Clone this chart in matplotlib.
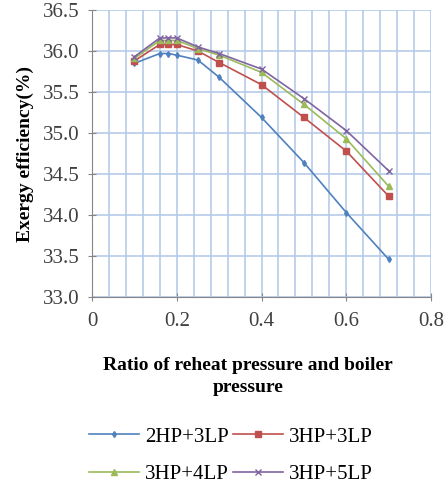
import matplotlib
matplotlib.use("Agg")
import matplotlib.pyplot as plt
import numpy as np

x = [0.1, 0.16, 0.18, 0.2, 0.25, 0.3, 0.4, 0.5, 0.6, 0.7]
s_2hp3lp = [35.85, 35.97, 35.97, 35.95, 35.89, 35.68, 35.19, 34.64, 34.03, 33.46]
s_3hp3lp = [35.88, 36.08, 36.08, 36.08, 36.00, 35.86, 35.59, 35.19, 34.78, 34.23]
s_3hp4lp = [35.91, 36.13, 36.13, 36.13, 36.03, 35.95, 35.74, 35.35, 34.93, 34.35]
s_3hp5lp = [35.93, 36.16, 36.16, 36.16, 36.05, 35.97, 35.78, 35.42, 35.03, 34.54]
labels = ["2HP+3LP", "3HP+3LP", "3HP+4LP", "3HP+5LP"]
xticks = [0, 0.2, 0.4, 0.6, 0.8]
yticks = [33.0, 33.5, 34.0, 34.5, 35.0, 35.5, 36.0, 36.5]

plt.rcParams['font.family'] = ['Liberation Serif', 'DejaVu Serif']

fig = plt.figure(figsize=(4.48, 4.88), dpi=100)
ax = fig.add_axes([0.2054, 0.3914, 0.7567, 0.588])

colors = ['#4F81BD', '#C0504D', '#9BBB59', '#8064A2']
markers = ['d', 's', '^', 'x']
msizes = [3, 4.5, 4, 5]
handles = []
for ys, lab, c, m, ms in zip([s_2hp3lp, s_3hp3lp, s_3hp4lp, s_3hp5lp], labels, colors, markers, msizes):
    h, = ax.plot(x, ys, color=c, marker=m, markersize=ms, linewidth=1.2, label=lab,
                 markeredgewidth=1.0)
    handles.append(h)

ax.set_xlim(0, 0.8)
ax.set_ylim(33.0, 36.5)
ax.set_xticks(xticks)
ax.set_xticklabels(["0", "0.2", "0.4", "0.6", "0.8"])
ax.set_yticks(yticks)
ax.set_yticklabels([f"{v:.1f}" for v in yticks])
ax.set_xticks(np.arange(0, 0.8001, 0.04), minor=True)
ax.grid(True, which='major', axis='y', color='#B0C7E6', linewidth=1.1)
ax.grid(True, which='both', axis='x', color='#B0C7E6', linewidth=1.1)
ax.set_axisbelow(True)
ax.tick_params(axis='x', which='minor', length=0)
ax.tick_params(axis='both', which='major', direction='inout', length=6, color='#868686',
               labelsize=15, labelcolor='#404040')
ax.tick_params(axis='y', pad=6)
ax.tick_params(axis='x', pad=8)
for sp in ['top', 'right']:
    ax.spines[sp].set_visible(False)
for sp in ['left', 'bottom']:
    ax.spines[sp].set_color('#868686')

fig.text(248 / 448, 1 - 357 / 488, "Ratio of reheat pressure and boiler\npressure",
         fontsize=14, fontweight='bold', ha='center', va='top', linespacing=1.35)
ax.set_ylabel("Exergy efficiency(%)", fontsize=14, fontweight='bold', labelpad=6)

order = [0, 2, 1, 3]
fig.legend([handles[i] for i in order], [labels[i] for i in order],
           loc='lower center', bbox_to_anchor=(0.515, -0.03), ncol=2, frameon=False,
           fontsize=15, handlelength=2.4, columnspacing=0.2, handletextpad=0.3,
           labelspacing=0.85)

fig.savefig("out.png", dpi=100)
